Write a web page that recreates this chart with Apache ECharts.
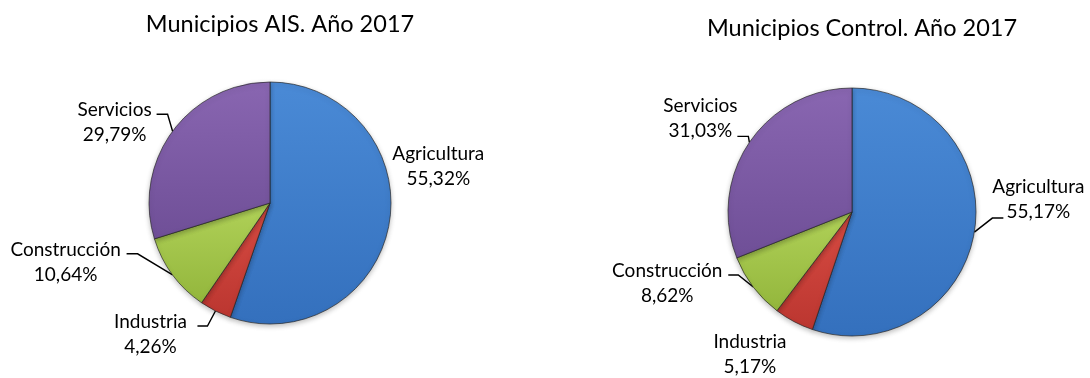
<!DOCTYPE html>
<html>
<head>
<meta charset="utf-8">
<script src="https://cdn.jsdelivr.net/npm/echarts@6/dist/echarts.min.js"></script>
<style>
  html, body { margin: 0; padding: 0; background: #ffffff; }
  #chart { width: 1090px; height: 378px; }
</style>
</head>
<body>
<div id="chart"></div>
<script>
// Sector shares (%) by municipality group, 2017
const sectors = ['Agricultura', 'Industria', 'Construcción', 'Servicios'];
const aisShares = [55.32, 4.26, 10.64, 29.79];
const controlShares = [55.17, 5.17, 8.62, 31.03];
const chartTitles = ['Municipios AIS. Año 2017', 'Municipios Control. Año 2017'];

const sectorColors = {
  'Agricultura': ['#4a8ad6', '#3470bd'],
  'Industria': ['#d84c43', '#bb3630'],
  'Construcción': ['#b0d158', '#93b63c'],
  'Servicios': ['#8966b1', '#6f4f97']
};

// Label placement per pie: offset of the label block centre from the slice's
// outer mid-point, plus the bend points of the leader line (null = no line).
const labelPlacement = [
  {
    'Agricultura': { dx: 49, dy: -57, line: null },
    'Industria': { dx: -65, dy: 23, line: [[-8, 15], [-18, 15]] },
    'Construcción': { dx: -107, dy: -12, line: [[-35, -21], [-46, -21]] },
    'Servicios': { dx: -58, dy: -9, line: [[-5, -17], [-16, -17]] }
  },
  {
    'Agricultura': { dx: 64, dy: -33, line: [[18, -14], [29, -14]] },
    'Industria': { dx: -44, dy: 33, line: null },
    'Construcción': { dx: -86, dy: -4, line: [[-15, -12], [-25, -12]] },
    'Servicios': { dx: -49, dy: -24, line: [[-1, -6], [-12, -6]] }
  }
];

const chart = echarts.init(document.getElementById('chart'), null, { renderer: 'canvas' });

function sliceData(values) {
  return sectors.map((name, i) => ({
    name: name,
    value: values[i],
    itemStyle: {
      color: new echarts.graphic.LinearGradient(0, 0, 0, 1, [
        { offset: 0, color: sectorColors[name][0] },
        { offset: 1, color: sectorColors[name][1] }
      ])
    }
  }));
}

function fmtPct(v) {
  return v.toFixed(2).replace('.', ',') + '%';
}

function anchorOf(params) {
  if (params.labelLinePoints && params.labelLinePoints.length) {
    return params.labelLinePoints[0];
  }
  const layout = chart.getModel().getSeriesByIndex(params.seriesIndex)
    .getData().getItemLayout(params.dataIndex);
  const mid = (layout.startAngle + layout.endAngle) / 2;
  return [layout.cx + layout.r * Math.cos(mid), layout.cy + layout.r * Math.sin(mid)];
}

function makeLabelLayout(seriesIdx) {
  return function (params) {
    const name = sectors[params.dataIndex];
    const place = labelPlacement[seriesIdx][name];
    const a = anchorOf(params);
    const out = {
      x: a[0] + place.dx,
      y: a[1] + place.dy,
      align: 'center',
      verticalAlign: 'middle',
      hideOverlap: false,
      moveOverlap: false
    };
    if (place.line) {
      out.labelLinePoints = [
        [a[0], a[1]],
        [a[0] + place.line[0][0], a[1] + place.line[0][1]],
        [a[0] + place.line[1][0], a[1] + place.line[1][1]]
      ];
    } else {
      out.labelLinePoints = [[a[0], a[1]], [a[0], a[1]], [a[0], a[1]]];
    }
    return out;
  };
}

function pieSeries(values, center, radius, idx) {
  return {
    type: 'pie',
    center: center,
    radius: radius,
    startAngle: 90,
    clockwise: true,
    avoidLabelOverlap: false,
    animation: false,
    data: sliceData(values),
    itemStyle: {
      borderColor: 'rgba(35,35,35,0.85)',
      borderWidth: 0.8,
      shadowBlur: 5,
      shadowColor: 'rgba(0,0,0,0.25)',
      shadowOffsetY: 2
    },
    label: {
      show: true,
      position: 'outside',
      fontFamily: 'Lato',
      fontSize: 19,
      lineHeight: 25,
      color: '#000000',
      align: 'center',
      formatter: p => p.name + '\n' + fmtPct(p.value)
    },
    labelLine: {
      show: true,
      length: 10,
      length2: 10,
      smooth: false,
      lineStyle: { color: '#000000', width: 1.4 }
    },
    labelLayout: makeLabelLayout(idx),
    emphasis: { disabled: true }
  };
}

function titleText(text, cx, cy) {
  return {
    type: 'text',
    x: cx,
    y: cy,
    style: {
      text: text,
      fontFamily: 'Lato',
      fontSize: 23.5,
      fill: '#000000',
      align: 'center',
      verticalAlign: 'middle'
    }
  };
}

chart.setOption({
  backgroundColor: '#ffffff',
  animation: false,
  graphic: [
    titleText(chartTitles[0], 280, 24),
    titleText(chartTitles[1], 862, 28)
  ],
  series: [
    pieSeries(aisShares, [270, 203], 121, 0),
    pieSeries(controlShares, [852, 212], 124, 1)
  ]
});
</script>
</body>
</html>
